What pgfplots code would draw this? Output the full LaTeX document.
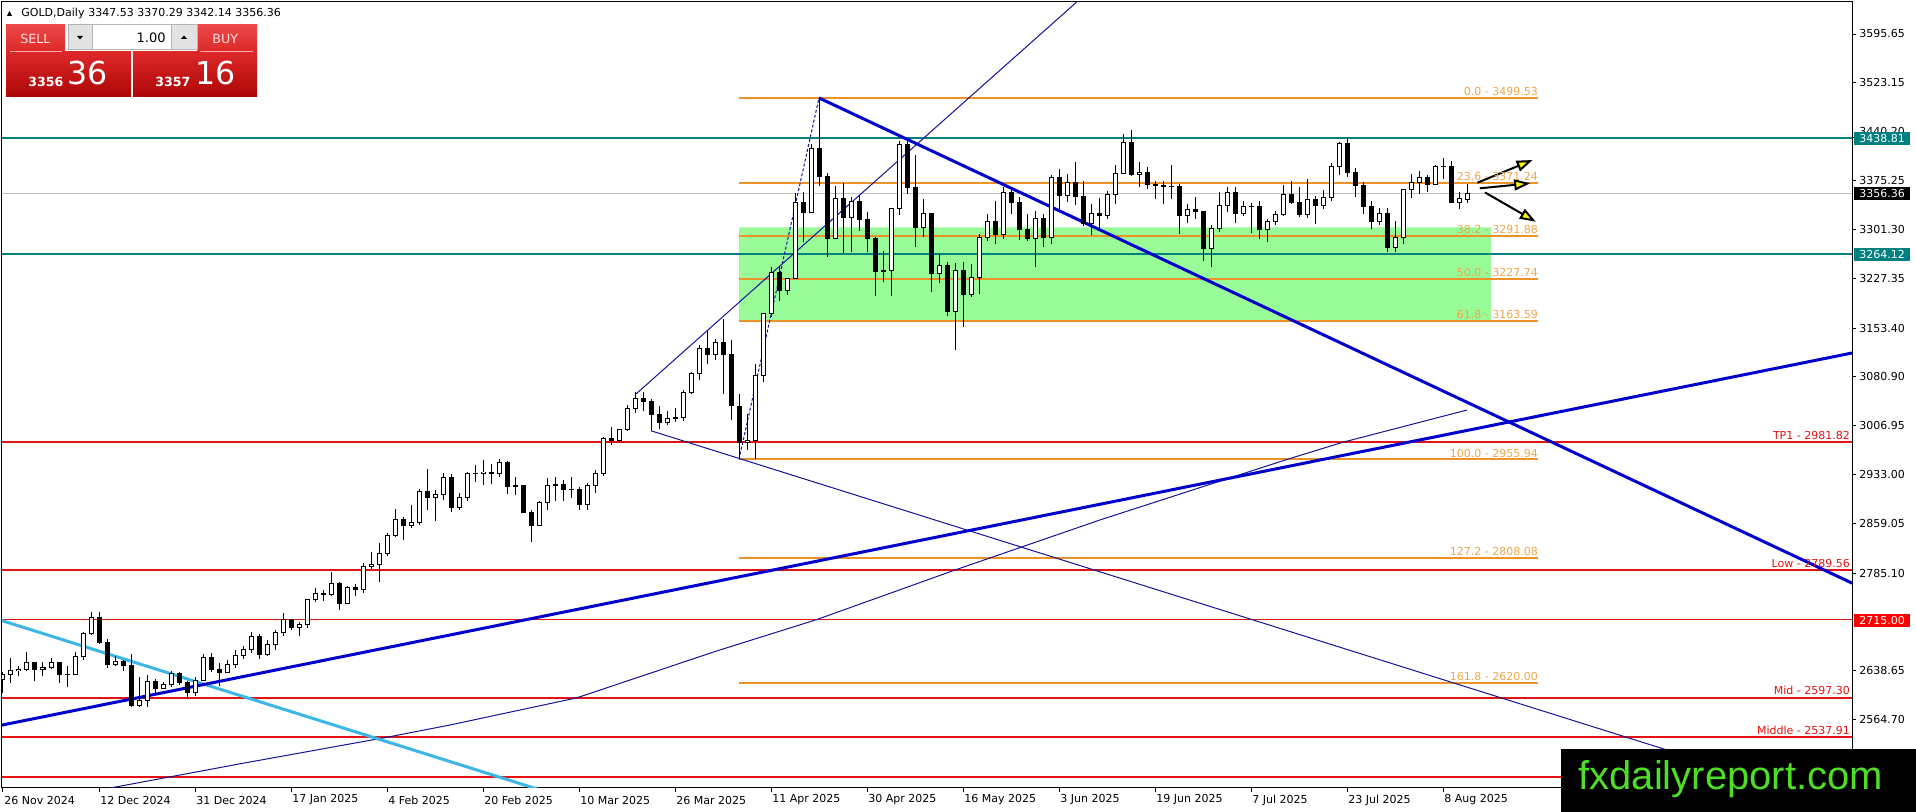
\documentclass[border=0pt]{standalone}
\usepackage{fontspec}
\setmainfont{DejaVu Sans}
\newfontfamily\wmfont{Liberation Sans}
\usepackage{pgfplots}
\pgfplotsset{compat=1.18}
\usepackage{pgfplotstable}
\usetikzlibrary{arrows.meta}

\definecolor{mtteal}{RGB}{0,128,128}
\definecolor{mtred}{RGB}{228,18,18}
\definecolor{fibline}{RGB}{236,146,40}
\definecolor{fibtext}{RGB}{240,166,72}
\definecolor{mtgreen}{RGB}{152,251,152}
\definecolor{thickblue}{RGB}{0,0,205}
\definecolor{thinblue}{RGB}{20,20,150}
\definecolor{cyanline}{RGB}{60,182,228}
\definecolor{wmgreen}{RGB}{78,222,38}
\definecolor{btntop}{RGB}{234,72,72}
\definecolor{btnmid}{RGB}{222,40,40}
\definecolor{btnbot}{RGB}{172,6,6}

\newcommand\tf{\fontsize{5.5pt}{6.6pt}\selectfont}

\pgfplotstableread{
i o h l c
0 2625 2636 2605 2633
1 2633 2657 2620 2638
2 2638 2645 2630 2640
3 2640 2666 2637 2650
4 2650 2652 2622 2640
5 2640 2651 2630 2643
6 2643 2658 2640 2650
7 2650 2652 2620 2632
8 2632 2646 2614 2633
9 2633 2667 2631 2660
10 2660 2697 2655 2694
11 2694 2726 2692 2718
12 2718 2726 2678 2680
13 2680 2686 2643 2648
14 2648 2660 2645 2652
15 2652 2654 2638 2646
16 2646 2664 2583 2586
17 2586 2628 2583 2594
18 2594 2632 2584 2622
19 2622 2626 2603 2612
20 2612 2621 2611 2617
21 2617 2638 2614 2634
22 2634 2636 2616 2621
23 2621 2623 2596 2606
24 2606 2629 2600 2624
25 2624 2664 2623 2658
26 2658 2665 2636 2640
27 2640 2650 2615 2635
28 2635 2655 2634 2648
29 2648 2670 2642 2661
30 2661 2675 2656 2670
31 2670 2697 2665 2690
32 2690 2693 2656 2663
33 2663 2684 2660 2677
34 2677 2700 2670 2696
35 2696 2725 2691 2715
36 2715 2716 2700 2703
37 2703 2711 2690 2708
38 2708 2746 2703 2745
39 2745 2763 2741 2755
40 2755 2759 2743 2753
41 2753 2786 2750 2770
42 2770 2772 2730 2740
43 2740 2765 2739 2763
44 2763 2768 2750 2760
45 2760 2800 2755 2795
46 2795 2817 2790 2798
47 2798 2830 2772 2815
48 2815 2845 2810 2842
49 2842 2882 2840 2866
50 2866 2869 2834 2856
51 2856 2887 2853 2861
52 2861 2911 2858 2908
53 2908 2942 2880 2898
54 2898 2910 2864 2903
55 2903 2935 2895 2928
56 2928 2934 2877 2883
57 2883 2905 2880 2898
58 2898 2937 2893 2935
59 2935 2947 2922 2934
60 2934 2955 2918 2937
61 2937 2949 2919 2935
62 2935 2956 2930 2951
63 2951 2954 2904 2915
64 2915 2930 2903 2916
65 2916 2918 2876 2876
66 2876 2880 2832 2857
67 2857 2894 2856 2891
68 2891 2928 2880 2917
69 2917 2930 2894 2918
70 2918 2925 2894 2910
71 2910 2930 2898 2911
72 2911 2914 2880 2888
73 2888 2920 2880 2916
74 2916 2940 2906 2934
75 2934 2990 2931 2987
76 2987 3005 2977 2984
77 2984 3002 2982 3001
78 3001 3038 2999 3033
79 3033 3057 3025 3047
80 3047 3057 3028 3043
81 3043 3047 2999 3023
82 3023 3036 3002 3011
83 3011 3029 3008 3018
84 3018 3033 3012 3019
85 3019 3060 3014 3056
86 3056 3087 3054 3085
87 3085 3128 3076 3122
88 3122 3149 3100 3113
89 3113 3137 3105 3132
90 3132 3167 3054 3113
91 3113 3136 3015 3037
92 3035 3055 2956 2982
93 2982 3024 2970 2984
94 2984 3099 2957 3082
95 3082 3176 3073 3175
96 3175 3245 3170 3237
97 3237 3245 3194 3210
98 3210 3229 3203 3228
99 3228 3357 3228 3342
100 3342 3358 3283 3327
101 3327 3430 3326 3424
102 3424 3499.53 3367 3381
103 3381 3386 3260 3288
104 3288 3367 3287 3349
105 3349 3371 3266 3319
106 3319 3351 3268 3344
107 3344 3353 3300 3317
108 3317 3328 3268 3288
109 3288 3290 3202 3239
110 3239 3269 3222 3240
111 3240 3334 3201 3334
112 3334 3435 3324 3430
113 3430 3437 3355 3365
114 3365 3414 3276 3305
115 3305 3347 3291 3325
116 3325 3327 3208 3236
117 3236 3265 3221 3248
118 3248 3253 3172 3178
119 3178 3252 3121 3240
120 3240 3253 3155 3204
121 3204 3250 3200 3230
122 3230 3295 3205 3290
123 3290 3325 3285 3314
124 3314 3345 3280 3294
125 3294 3366 3288 3358
126 3358 3365 3325 3342
127 3342 3350 3286 3301
128 3301 3325 3285 3288
129 3288 3330 3245 3318
130 3318 3325 3275 3289
131 3289 3383 3280 3380
132 3380 3392 3333 3353
133 3353 3385 3343 3373
134 3373 3403 3338 3352
135 3352 3375 3307 3310
136 3310 3340 3293 3325
137 3325 3349 3300 3323
138 3323 3360 3318 3355
139 3355 3398 3340 3386
140 3386 3446 3386 3432
141 3432 3452 3382 3385
142 3385 3403 3366 3388
143 3388 3395 3362 3369
144 3369 3375 3348 3368
145 3368 3375 3340 3367
146 3367 3398 3348 3366
147 3366 3370 3295 3323
148 3323 3340 3312 3332
149 3332 3350 3318 3328
150 3328 3330 3255 3273
151 3273 3308 3246 3303
152 3303 3358 3298 3338
153 3338 3365 3328 3357
154 3357 3366 3311 3326
155 3326 3345 3322 3337
156 3337 3342 3296 3336
157 3336 3345 3287 3301
158 3301 3318 3283 3313
159 3313 3330 3308 3324
160 3324 3369 3322 3355
161 3355 3375 3340 3343
162 3343 3366 3321 3324
163 3324 3377 3319 3347
164 3347 3352 3310 3338
165 3338 3361 3333 3350
166 3350 3402 3345 3397
167 3397 3434 3384 3431
168 3431 3439 3381 3387
169 3387 3394 3351 3368
170 3368 3373 3325 3337
171 3337 3345 3302 3314
172 3314 3334 3309 3326
173 3326 3334 3268 3275
174 3275 3315 3268 3289
175 3289 3363 3280 3362
176 3362 3385 3349 3373
177 3373 3390 3355 3380
178 3380 3384 3358 3370
179 3370 3398 3368 3396
180 3396 3409 3378 3397
181 3397 3404 3341 3342
182 3342 3358 3332 3348
183 3347.53 3370.29 3342.14 3356.36
}\candles

\begin{document}
\begin{tikzpicture}
\useasboundingbox (0,0) rectangle (958pt,-406pt);
\fill[white] (0,0) rectangle (958pt,-406pt);
\begin{axis}[at={(1pt,-1pt)}, anchor=north west, scale only axis,
  width=925pt, height=393pt,
  xmin=-0.125, xmax=231.125, ymin=2461.8, ymax=3643.8,
  clip mode=individual,
  axis line style={black,line width=0.5pt},
  xtick={0,12,...,180}, xticklabels={},
  ytick={3595.65,3523.15,3440.20,3375.25,3301.30,3227.35,3153.40,3080.90,3006.95,2933.00,2859.05,2785.10,2638.65,2564.70},
  yticklabels={},
  xtick pos=left, ytick pos=right, tick align=outside,
  major tick length=2pt, tick style={black,line width=0.5pt},
  every axis plot/.append style={line cap=butt, forget plot}]

% green zone
\addplot[fill=mtgreen, draw=none] coordinates {(92,3163.59) (186,3163.59) (186,3305) (92,3305) (92,3163.59)};

% current price line
\addplot[color={rgb,255:red,192;green,192;blue,192}, line width=0.5pt] coordinates {(-1,3356.36) (240,3356.36)};

% teal lines
\addplot[mtteal, line width=1pt] coordinates {(-1,3438.81) (240,3438.81)};
\addplot[mtteal, line width=1pt] coordinates {(-1,3264.12) (240,3264.12)};

% red levels
\addplot[mtred, line width=1pt] coordinates {(-1,2981.82) (240,2981.82)};
\addplot[mtred, line width=1pt] coordinates {(-1,2789.56) (240,2789.56)};
\addplot[mtred, line width=0.5pt] coordinates {(-1,2715.00) (240,2715.00)};
\addplot[mtred, line width=1pt] coordinates {(-1,2597.30) (240,2597.30)};
\addplot[mtred, line width=1pt] coordinates {(-1,2537.91) (240,2537.91)};
\addplot[mtred, line width=1pt] coordinates {(-1,2478.3) (240,2478.3)};

% fibonacci levels
\addplot[fibline, line width=1pt] coordinates {(92,3499.53) (191.9,3499.53)};
\addplot[fibline, line width=1pt] coordinates {(92,3371.24) (191.9,3371.24)};
\addplot[fibline, line width=1pt] coordinates {(92,3291.88) (191.9,3291.88)};
\addplot[fibline, line width=1pt] coordinates {(92,3227.74) (191.9,3227.74)};
\addplot[fibline, line width=1pt] coordinates {(92,3163.59) (191.9,3163.59)};
\addplot[fibline, line width=1pt] coordinates {(92,2955.94) (191.9,2955.94)};
\addplot[fibline, line width=1pt] coordinates {(92,2808.08) (191.9,2808.08)};
\addplot[fibline, line width=1pt] coordinates {(92,2620.00) (191.9,2620.00)};

% thin blue lines
\addplot[thinblue, line width=0.5pt] coordinates {(79,3053) (140,3705.7)};
\addplot[thinblue, line width=0.5pt] coordinates {(81,2999) (240,2398)};
\addplot[thinblue, line width=0.5pt] coordinates {(13.5,2462) (30,2499) (47.9,2537.9) (55.9,2556.6) (71.7,2597.3) (89.2,2667.8) (101.7,2715) (119,2789.6) (137.1,2864.8) (160.5,2955.9) (167.5,2981.8) (183,3030.2)};
\addplot[thinblue, line width=0.5pt, dash pattern=on 1.5pt off 1pt] coordinates {(92,2955.94) (102,3499.53)};

% cyan line
\addplot[cyanline, line width=1.5pt] coordinates {(-1,2716.8) (70,2448.1)};

% thick blue lines
\addplot[thickblue, line width=1.5pt] coordinates {(-1,2554.3) (240,3137.4)};
\addplot[thickblue, line width=1.5pt] coordinates {(102,3499.53) (240,2719.8)};

% candles: wicks
\addplot[draw=none, mark=none, error bars/.cd, y dir=plus, y explicit, error mark=none,
  error bar style={draw=black, line width=0.5pt, solid}]
  table[x=i, y=l, y error expr=\thisrow{h}-\thisrow{l}] {\candles};
% candles: body outline / bear body
\addplot[draw=none, mark=none, error bars/.cd, y dir=plus, y explicit, error mark=none,
  error bar style={draw=black, line width=2.5pt, solid}]
  table[x=i, y expr={min(\thisrow{o},\thisrow{c})-0.75}, y error expr={abs(\thisrow{c}-\thisrow{o})+1.5}] {\candles};
% candles: bull body inside
\addplot[draw=none, mark=none, error bars/.cd, y dir=plus, y explicit, error mark=none,
  error bar style={draw=white, line width=1.5pt, solid}]
  table[x=i, y expr={\thisrow{o}+0.75}, y error expr={max(\thisrow{c}-\thisrow{o}-1.5,0)}] {\candles};

% arrows
\draw[black, line width=1pt, -{Triangle[length=8pt, width=5.5pt, fill=yellow]}] (axis cs:184.3,3372.0) -- (axis cs:191.2,3406.2);
\draw[black, line width=1pt, -{Triangle[length=8pt, width=5.5pt, fill=yellow]}] (axis cs:184.6,3363.6) -- (axis cs:190.9,3371.1);
\draw[black, line width=1pt, -{Triangle[length=8pt, width=5.5pt, fill=yellow]}] (axis cs:185.25,3357.4) -- (axis cs:191.6,3313.4);

% fib labels
\begin{scope}[every node/.style={anchor=base east, font=\tf, text=fibtext, inner sep=0pt, yshift=1.2pt}]
\node at (axis cs:191.9,3499.53) {0.0 - 3499.53};
\node at (axis cs:191.9,3371.24) {23.6 - 3371.24};
\node at (axis cs:191.9,3291.88) {38.2 - 3291.88};
\node at (axis cs:191.9,3227.74) {50.0 - 3227.74};
\node at (axis cs:191.9,3163.59) {61.8 - 3163.59};
\node at (axis cs:191.9,2955.94) {100.0 - 2955.94};
\node at (axis cs:191.9,2808.08) {127.2 - 2808.08};
\node at (axis cs:191.9,2620.00) {161.8 - 2620.00};
\end{scope}
% red labels
\begin{scope}[every node/.style={anchor=base east, font=\tf, text=mtred, inner sep=0pt, yshift=1.5pt}]
\node at (axis cs:230.9,2981.82) {TP1 - 2981.82};
\node at (axis cs:230.9,2789.56) {Low - 2789.56};
\node at (axis cs:230.9,2597.30) {Mid - 2597.30};
\node at (axis cs:230.9,2537.91) {Middle - 2537.91};
\end{scope}
\end{axis}

\begin{scope}[x=0.5pt, y=-0.5pt]
% price labels
\begin{scope}[every node/.style={anchor=west, font=\tf, inner sep=0pt}]
\node at (1859,34.0) {3595.65};
\node at (1859,82.2) {3523.15};
\node at (1859,131.5) {3440.20};
\node at (1859,180.6) {3375.25};
\node at (1859,229.8) {3301.30};
\node at (1859,278.9) {3227.35};
\node at (1859,328.1) {3153.40};
\node at (1859,376.3) {3080.90};
\node at (1859,425.5) {3006.95};
\node at (1859,474.7) {2933.00};
\node at (1859,523.8) {2859.05};
\node at (1859,573.0) {2785.10};
\node at (1859,670.4) {2638.65};
\node at (1859,719.6) {2564.70};
\end{scope}
\fill[mtteal] (1854,132) rectangle (1910,145);
\node[anchor=west, font=\tf, inner sep=0pt, text=white] at (1859,138.5) {3438.81};
\fill[black] (1854,187) rectangle (1910,200);
\node[anchor=west, font=\tf, inner sep=0pt, text=white] at (1859,193.3) {3356.36};
\fill[mtteal] (1854,248) rectangle (1910,261);
\node[anchor=west, font=\tf, inner sep=0pt, text=white] at (1859,254.5) {3264.12};
\fill[red] (1854,614) rectangle (1910,627);
\node[anchor=west, font=\tf, inner sep=0pt, text=white] at (1859,620.3) {2715.00};

% date labels
\begin{scope}[every node/.style={anchor=west, font=\tf, inner sep=0pt}]
\node at (4,800) {26 Nov 2024};
\node at (100,800) {12 Dec 2024};
\node at (196,800) {31 Dec 2024};
\node at (292,800) {17 Jan 2025};
\node at (388,800) {4 Feb 2025};
\node at (484,800) {20 Feb 2025};
\node at (580,800) {10 Mar 2025};
\node at (676,800) {26 Mar 2025};
\node at (772,800) {11 Apr 2025};
\node at (868,800) {30 Apr 2025};
\node at (964,800) {16 May 2025};
\node at (1060,800) {3 Jun 2025};
\node at (1156,800) {19 Jun 2025};
\node at (1252,800) {7 Jul 2025};
\node at (1348,800) {23 Jul 2025};
\node at (1444,800) {8 Aug 2025};
\end{scope}

% header
\fill[black] (7,16) -- (12,16) -- (9.5,11) -- cycle;
\node[anchor=west, font=\tf, inner sep=0pt] at (21,13) {GOLD,Daily};
\node[anchor=west, font=\tf, inner sep=0pt] at (88,13) {3347.53 3370.29 3342.14 3356.36};

% trade panel
\shade[top color=btntop, bottom color=btnmid] (6,25) rectangle (65,52);
\shade[top color=btntop, bottom color=btnmid] (197,25) rectangle (257,52);
\shade[top color=btnmid, bottom color=btnbot] (6,52) rectangle (131,97);
\shade[top color=btnmid, bottom color=btnbot] (133,52) rectangle (257,97);
\draw[color={rgb,255:red,246;green,170;blue,170}, line width=0.5pt] (10,52) -- (62,52);
\draw[color={rgb,255:red,246;green,170;blue,170}, line width=0.5pt] (200,52) -- (253,52);
\fill[color={rgb,255:red,226;green,226;blue,226}] (68,25) rectangle (92,50);
\fill[color={rgb,255:red,226;green,226;blue,226}] (171,25) rectangle (197,50);
\fill[white] (92,25) rectangle (171,50);
\draw[color={rgb,255:red,180;green,180;blue,180}, line width=0.5pt] (68,25) rectangle (197,50);
\draw[color={rgb,255:red,180;green,180;blue,180}, line width=0.5pt] (92,25) -- (92,50) (171,25) -- (171,50);
\fill[black] (77,36) -- (83,36) -- (80,39.5) -- cycle;
\fill[black] (181,39) -- (187,39) -- (184,35.5) -- cycle;
\node[anchor=east, inner sep=0pt, font=\fontsize{6.5pt}{7pt}\selectfont] at (166,37.5) {1.00};
\node[anchor=west, inner sep=0pt, text={rgb,255:red,255;green,225;blue,225}, font=\fontsize{6.3pt}{7pt}\selectfont] at (20,39) {SELL};
\node[anchor=west, inner sep=0pt, text={rgb,255:red,255;green,225;blue,225}, font=\fontsize{6.3pt}{7pt}\selectfont] at (212,39) {BUY};
\node[anchor=base west, inner sep=0pt, text=white, font=\fontsize{6.3pt}{7pt}\selectfont\bfseries] at (28,87) {3356};
\node[anchor=base west, inner sep=0pt, text=white, font=\fontsize{15.8pt}{17pt}\selectfont] at (67,85) {36};
\node[anchor=base west, inner sep=0pt, text=white, font=\fontsize{6.3pt}{7pt}\selectfont\bfseries] at (155,87) {3357};
\node[anchor=base west, inner sep=0pt, text=white, font=\fontsize{15.8pt}{17pt}\selectfont] at (195,85) {16};

% watermark
\fill[black] (1561,749) rectangle (1916,812);
\node[anchor=base west, inner sep=0pt, text=wmgreen, font=\wmfont\fontsize{20pt}{23pt}\selectfont] at (1578,789) {fxdailyreport.com};
\end{scope}
\end{tikzpicture}
\end{document}
